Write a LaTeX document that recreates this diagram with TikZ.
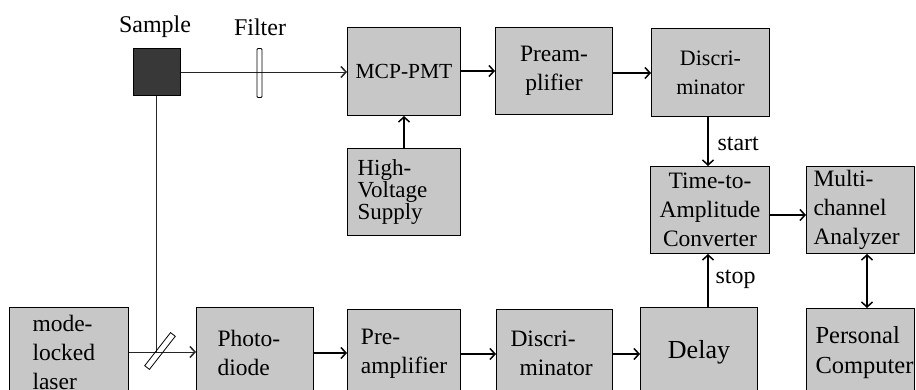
\documentclass[tikz,border=0pt]{standalone}
\usepackage{fontspec}
\setmainfont{Liberation Serif}
\usetikzlibrary{arrows.meta}
\definecolor{boxgray}{gray}{0.78}
\definecolor{samplegray}{gray}{0.22}
\begin{document}
\begin{tikzpicture}[x=1pt,y=-1pt,
  box/.style={draw=black,line width=1pt,fill=boxgray,inner sep=0pt,anchor=north west,align=center,font=\fontsize{23.5}{29}\selectfont},
  lbox/.style={box,align=left,inner xsep=#1},
  conn/.style={line width=1.1pt,-{Straight Barb[length=5pt,width=11pt,line width=1.5pt]}},
  biconn/.style={line width=1.1pt,{Straight Barb[length=5pt,width=11pt,line width=1.5pt]}-{Straight Barb[length=5pt,width=11pt,line width=1.5pt]}},
  beam/.style={line width=0.8pt,draw=black!85},
  lbl/.style={font=\fontsize{24}{28}\selectfont,inner sep=0pt}]
\useasboundingbox (0,0) rectangle (916,390);
\clip (0,0) rectangle (916,390);

% top row
\node[box,minimum width=113pt,minimum height=88pt,font=\fontsize{21.5}{26}\selectfont] (mcp) at (347,27) {MCP-PMT};
\node[box,minimum width=117pt,minimum height=87pt] (preT) at (495,27) {Pream-\\plifier};
\node[box,minimum width=118pt,minimum height=88pt,font=\fontsize{22}{29}\selectfont] (discT) at (651,28) {Discri-\\minator};
\node[lbox=10pt,text width=93pt,minimum height=87pt,font=\fontsize{23}{20}\selectfont] (hv) at (347,148) {High-\\Voltage\\Supply};
\node[box,minimum width=119pt,minimum height=87pt] (tac) at (650,166) {Time-to-\\Amplitude\\Converter};
\node[lbox=7pt,text width=94pt,minimum height=87pt] (mca) at (806,166) {Multi-\\channel\\Analyzer};

% bottom row
\node[lbox=23pt,text width=73pt,minimum height=90pt] (laser) at (9,307) {mode-\\locked\\laser};
\node[lbox=21pt,text width=75pt,minimum height=90pt] (photo) at (196,307) {Photo-\\diode};
\node[box,minimum width=113pt,minimum height=88pt,align=left] (preB) at (347,309) {Pre-\\amplifier};
\node[lbox=14pt,text width=88pt,minimum height=88pt] (discB) at (496,309) {Discri-\\\hspace*{9pt}minator};
\node[box,minimum width=117pt,minimum height=90pt,font=\fontsize{26}{30}\selectfont] (delay) at (640,307) {Delay};
\node[lbox=9pt,text width=90pt,minimum height=89pt,font=\fontsize{24.5}{30}\selectfont] (pc) at (806,308) {Personal\\Computer};

% optics
\node[draw=black,line width=1pt,fill=samplegray,minimum width=47pt,minimum height=47pt,inner sep=0pt] (sample) at (156.5,72) {};
\node[lbl] (sampleL) at (155,27) {Sample};
\node[lbl] (filterL) at (260,27) {Filter};
\coordinate (bs) at (156.5,352);

\draw[beam,-{Straight Barb[length=5pt,width=11pt,line width=1.5pt]}] (sample.east) -- (mcp.west |- sample.east);
\node[draw=black,line width=0.8pt,minimum width=5pt,minimum height=49pt,inner sep=0pt,rounded corners=1pt] (filter) at (259.5,73) {};
\draw[beam] (sample.south) -- (bs);
\draw[beam,-{Straight Barb[length=5pt,width=11pt,line width=1.5pt]}] (laser.east |- bs) -- (photo.west |- bs);
\node[draw=black,line width=0.8pt,minimum width=42pt,minimum height=6pt,inner sep=0pt,rotate=52] (splitter) at (160,351) {};

% electronics connectors
\draw[conn] (mcp.east |- 0,71) -- (preT.west |- 0,71);
\draw[conn] (preT.east |- 0,73) -- (discT.west |- 0,73);
\draw[conn] (hv.north) -- (mcp.south);
\draw[conn] (discT.south -| 708,0) -- (tac.north -| 708,0) node[lbl,pos=0.55,right=9pt] (startL) {start};
\draw[conn] (delay.north -| 708,0) -- (tac.south -| 708,0) node[lbl,pos=0.52,right=7pt] (stopL) {stop};
\draw[conn] (tac.east |- 0,215) -- (mca.west |- 0,215);
\draw[biconn] (mca.south -| 867,0) -- (pc.north -| 867,0);
\draw[conn] (photo.east |- 0,353) -- (preB.west |- 0,353);
\draw[conn] (preB.east |- 0,354) -- (discB.west |- 0,354);
\draw[conn] (discB.east |- 0,354) -- (delay.west |- 0,354);
\end{tikzpicture}
\end{document}
